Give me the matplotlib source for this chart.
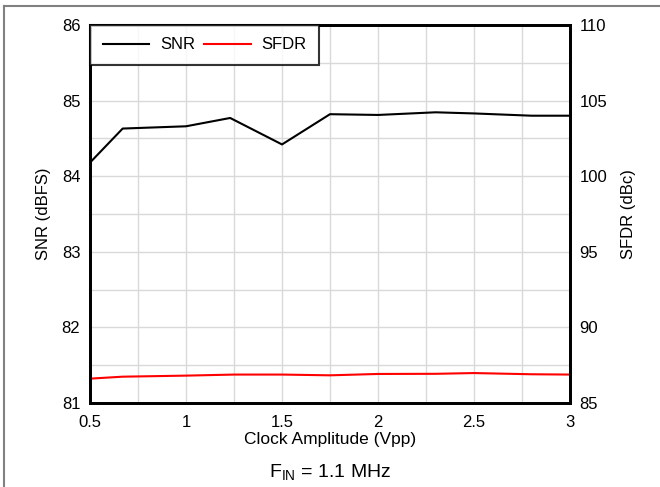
import matplotlib.pyplot as plt
from matplotlib.lines import Line2D

plt.rcParams['font.family'] = ['Liberation Sans', 'DejaVu Sans']

# Clock amplitude (Vpp)
snr_x = [0.5, 0.67, 1.0, 1.23, 1.5, 1.75, 2.0, 2.3, 2.5, 2.8, 3.0]
snr = [84.18, 84.63, 84.66, 84.77, 84.42, 84.82, 84.81, 84.845, 84.83, 84.80, 84.80]

sfdr_x = [0.5, 0.67, 1.0, 1.25, 1.5, 1.75, 2.0, 2.3, 2.5, 2.8, 3.0]
sfdr = [86.61, 86.74, 86.81, 86.88, 86.88, 86.83, 86.92, 86.93, 86.98, 86.90, 86.88]

x_ticks = [0.5, 1, 1.5, 2, 2.5, 3]
x_tick_labels = ["0.5", "1", "1.5", "2", "2.5", "3"]
snr_ticks = [81, 82, 83, 84, 85, 86]
sfdr_ticks = [85, 90, 95, 100, 105, 110]

fig = plt.figure(figsize=(6.6, 4.87), dpi=100)
ax = fig.add_axes([0.1364, 0.1725, 0.7272, 0.7762])
ax2 = ax.twinx()

# minor grid every 0.25 in x and 0.5 in y
ax.set_xticks([0.5 + 0.25 * i for i in range(11)], minor=True)
ax.set_yticks([81 + 0.5 * i for i in range(11)], minor=True)
ax.grid(True, which="both", color="#d9d9d9", linewidth=1.0)
ax.set_axisbelow(True)
ax.tick_params(which="both", length=0)

l1, = ax.plot(snr_x, snr, color="black", linewidth=1.5)
l2, = ax2.plot(sfdr_x, sfdr, color="#ff0000", linewidth=1.5)

ax.set_xlim(0.5, 3)
ax.set_ylim(81, 86)
ax2.set_ylim(85, 110)
ax.set_xticks(x_ticks)
ax.set_xticklabels(x_tick_labels)
ax.set_yticks(snr_ticks)
ax2.set_yticks(sfdr_ticks)
ax2.tick_params(length=0)

for a in (ax, ax2):
    for s in a.spines.values():
        s.set_linewidth(2)
    a.tick_params(labelsize=12, pad=7)
ax.tick_params(axis="x", pad=9)

ax.set_xlabel("Clock Amplitude (Vpp)", fontsize=12.5, labelpad=1)
ax.set_ylabel("SNR (dBFS)", fontsize=12, labelpad=8)
ax2.set_ylabel("SFDR (dBc)", fontsize=12, labelpad=10)

leg = ax2.legend([l1, l2], ["SNR", "SFDR"], loc="upper left", ncol=2,
                 fontsize=12, frameon=True, fancybox=False,
                 borderaxespad=0, handlelength=2.8, columnspacing=0.55,
                 handletextpad=0.65, borderpad=0.75)
leg.get_frame().set_edgecolor("black")
leg.get_frame().set_linewidth(1.5)

fig.text(0.5, 0.02, r"F$_{\mathregular{IN}}$ = 1.1 MHz", ha="center", fontsize=14)

# outer border lines (left and top)
fig.add_artist(Line2D([0.006, 0.006], [0, 0.988], transform=fig.transFigure,
                      color="#808080", linewidth=1.5))
fig.add_artist(Line2D([0.006, 1], [0.988, 0.988], transform=fig.transFigure,
                      color="#808080", linewidth=1.5))

fig.savefig("out.png", dpi=100)
